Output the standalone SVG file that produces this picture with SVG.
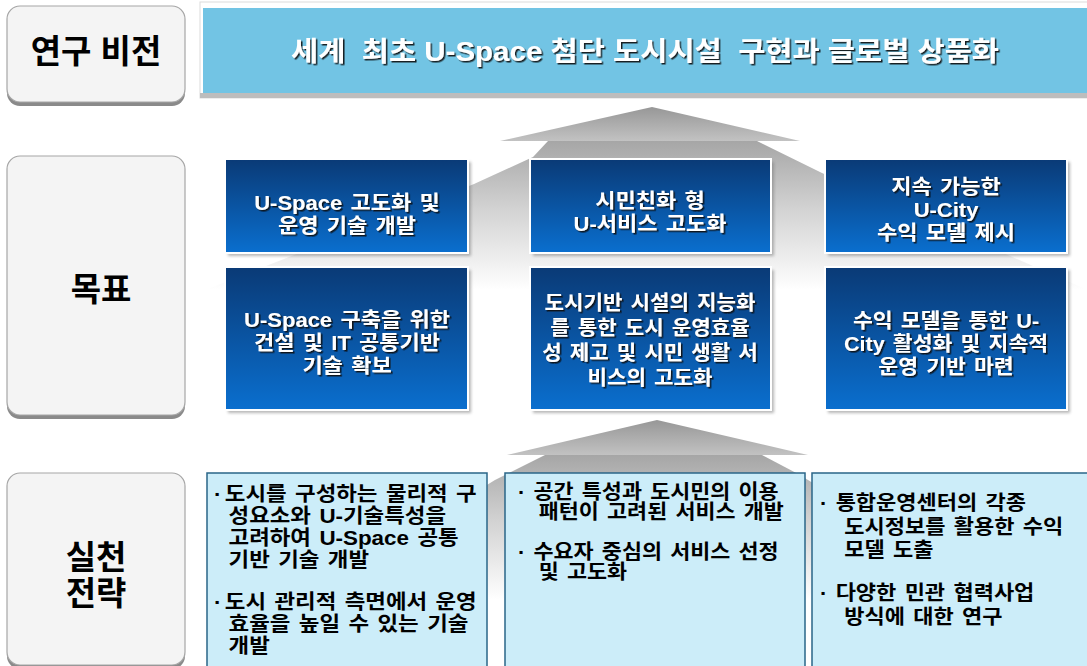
<svg xmlns="http://www.w3.org/2000/svg" width="1087" height="666" viewBox="0 0 1087 666">
<defs>
<style>
.lbl{fill:#f4f4f4;stroke:#a6a6a6;stroke-width:1.2}
.lblsh{fill:#8a8a8a}
.lt{font-family:"Liberation Sans","Noto Sans CJK KR",sans-serif;font-weight:700;font-size:33px;fill:#000;text-anchor:middle}
.gb{fill:url(#gblue);stroke:#ffffff;stroke-width:2}
.gsh{fill:#7a7a7a;opacity:.55;filter:url(#blur)}
.gt{font-family:"Liberation Sans","Noto Sans CJK KR",sans-serif;font-weight:700;font-size:20px;fill:#fff;text-anchor:middle;filter:url(#ts);word-spacing:2px}
.sb{fill:#ccedf9;stroke:#2a6688;stroke-width:1.5}
.st{font-family:"Liberation Sans","Noto Sans CJK KR",sans-serif;font-weight:700;font-size:20px;fill:#000;word-spacing:2px}
.bt{font-family:"Liberation Sans","Noto Sans CJK KR",sans-serif;font-weight:700;font-size:27px;fill:#fff;text-anchor:middle;filter:url(#ts)}
</style>
<linearGradient id="gblue" x1="0" y1="0" x2="0" y2="1">
<stop offset="0" stop-color="#0a3a76"/>
<stop offset="1" stop-color="#0a6fcf"/>
</linearGradient>
<linearGradient id="head1" gradientUnits="userSpaceOnUse" x1="0" y1="107" x2="0" y2="141">
<stop offset="0" stop-color="#979797"/>
<stop offset="1" stop-color="#c2c2c2"/>
</linearGradient>
<linearGradient id="fan1" gradientUnits="userSpaceOnUse" x1="0" y1="141" x2="0" y2="290">
<stop offset="0" stop-color="#a6a6a6"/>
<stop offset="0.45" stop-color="#d2d2d2"/>
<stop offset="1" stop-color="#ffffff"/>
</linearGradient>
<linearGradient id="head2" gradientUnits="userSpaceOnUse" x1="0" y1="420" x2="0" y2="455">
<stop offset="0" stop-color="#979797"/>
<stop offset="1" stop-color="#c2c2c2"/>
</linearGradient>
<linearGradient id="fan2" gradientUnits="userSpaceOnUse" x1="0" y1="455" x2="0" y2="600">
<stop offset="0" stop-color="#a6a6a6"/>
<stop offset="0.45" stop-color="#d2d2d2"/>
<stop offset="1" stop-color="#ffffff"/>
</linearGradient>
<filter id="ts" x="-10%" y="-20%" width="120%" height="140%">
<feDropShadow dx="1.5" dy="1.5" stdDeviation="0.6" flood-color="#111" flood-opacity="0.9"/>
</filter>
<filter id="blur" x="-10%" y="-10%" width="120%" height="120%">
<feGaussianBlur stdDeviation="1.5"/>
</filter>
</defs>
<rect width="1087" height="666" fill="#ffffff"/>

<g id="connectors">
<g id="arrow-goal-to-vision">
<polygon points="548,141 757,141 822,173 1110,300 180,300 474,184 533,157" fill="url(#fan1)"/>
<polygon points="652,107 800,141 500,141" fill="url(#head1)"/>
</g>
<g id="arrow-strategy-to-goal">
<polygon points="545,455 762,455 800,475 1000,600 300,600 495,480" fill="url(#fan2)"/>
<polygon points="657,420 808,455 507,455" fill="url(#head2)"/>
</g>
</g>

<g id="label-vision">
<rect class="lblsh" x="7" y="10" width="178" height="96" rx="13"/>
<rect class="lbl" x="7" y="6" width="178" height="96" rx="13"/>
<text class="lt" x="96" y="63">연구 비전</text>
</g>
<g id="label-goal">
<rect class="lblsh" x="7" y="160" width="178" height="259" rx="13"/>
<rect class="lbl" x="7" y="156" width="178" height="259" rx="13"/>
<text class="lt" x="101" y="301">목표</text>
</g>
<g id="label-strategy">
<rect class="lblsh" x="7" y="477" width="178" height="192" rx="13"/>
<rect class="lbl" x="7" y="473" width="178" height="192" rx="13"/>
<text class="lt" x="96" y="569"><tspan x="96">실천</tspan><tspan x="96" dy="36">전략</tspan></text>
</g>

<g id="vision">
<rect x="200" y="2" width="895" height="96" fill="#ffffff" stroke="#dcdcdc" stroke-width="1"/>
<rect x="200" y="93" width="895" height="5" fill="#bdbdbd"/>
<rect x="203" y="8" width="890" height="85" fill="#72c4e4"/>
<text class="bt" x="645" y="61" textLength="708" lengthAdjust="spacingAndGlyphs" xml:space="preserve">세계  최초 U-Space 첨단 도시시설  구현과 글로벌 상품화</text>
</g>

<g id="goal-1a">
<rect class="gsh" x="228" y="162" width="243" height="94"/>
<rect class="gb" x="225" y="159" width="243" height="94"/>
<g transform="translate(347 0) scale(1.1 1)"><text class="gt" x="0" y="210"><tspan x="0">U-Space 고도화 및</tspan><tspan x="0" dy="23">운영 기술 개발</tspan></text></g>
</g>
<g id="goal-2a">
<rect class="gsh" x="533" y="162" width="241" height="94"/>
<rect class="gb" x="530" y="159" width="241" height="94"/>
<g transform="translate(650 0) scale(1.1 1)"><text class="gt" x="0" y="208"><tspan x="0">시민친화 형</tspan><tspan x="0" dy="23">U-서비스 고도화</tspan></text></g>
</g>
<g id="goal-3a">
<rect class="gsh" x="828" y="162" width="242" height="94"/>
<rect class="gb" x="825" y="159" width="242" height="94"/>
<g transform="translate(946 0) scale(1.1 1)"><text class="gt" x="0" y="194"><tspan x="0">지속 가능한</tspan><tspan x="0" dy="23">U-City</tspan><tspan x="0" dy="23">수익 모델 제시</tspan></text></g>
</g>
<g id="goal-1b">
<rect class="gsh" x="228" y="270" width="243" height="143"/>
<rect class="gb" x="225" y="267" width="243" height="143"/>
<g transform="translate(347 0) scale(1.1 1)"><text class="gt" x="0" y="327"><tspan x="0">U-Space 구축을 위한</tspan><tspan x="0" dy="23">건설 및 IT 공통기반</tspan><tspan x="0" dy="23">기술 확보</tspan></text></g>
</g>
<g id="goal-2b">
<rect class="gsh" x="533" y="270" width="241" height="143"/>
<rect class="gb" x="530" y="267" width="241" height="143"/>
<g transform="translate(650 0) scale(1.06 1)"><text class="gt" x="0" y="310"><tspan x="0">도시기반 시설의 지능화</tspan><tspan x="0" dy="25">를 통한 도시 운영효율</tspan><tspan x="0" dy="25">성 제고 및 시민 생활 서</tspan><tspan x="0" dy="25">비스의 고도화</tspan></text></g>
</g>
<g id="goal-3b">
<rect class="gsh" x="828" y="270" width="242" height="143"/>
<rect class="gb" x="825" y="267" width="242" height="143"/>
<g transform="translate(946 0) scale(1.08 1)"><text class="gt" x="0" y="328"><tspan x="0">수익 모델을 통한 U-</tspan><tspan x="0" dy="23">City 활성화 및 지속적</tspan><tspan x="0" dy="23">운영 기반 마련</tspan></text></g>
</g>

<g id="strategy-1">
<rect class="sb" x="207" y="473" width="280" height="200"/>
<g transform="translate(214 0) scale(1.12 1)"><text class="st" x="0" y="501"><tspan x="0">·</tspan><tspan dx="3">도시를 구성하는 물리적 구</tspan><tspan x="13" dy="22">성요소와 U-기술특성을</tspan><tspan x="13" dy="22">고려하여 U-Space 공통</tspan><tspan x="13" dy="22">기반 기술 개발</tspan></text></g>
<g transform="translate(214 0) scale(1.12 1)"><text class="st" x="0" y="609"><tspan x="0">·</tspan><tspan dx="3">도시 관리적 측면에서 운영</tspan><tspan x="13" dy="22">효율을 높일 수 있는 기술</tspan><tspan x="13" dy="22">개발</tspan></text></g>
</g>
<g id="strategy-2">
<rect class="sb" x="505" y="473" width="300" height="200"/>
<g transform="translate(518 0) scale(1.09 1)"><text class="st" x="0" y="499"><tspan x="0">· 공간 특성과 도시민의 이용</tspan><tspan x="19" dy="20">패턴이 고려된 서비스 개발</tspan></text></g>
<g transform="translate(518 0) scale(1.09 1)"><text class="st" x="0" y="559"><tspan x="0">· 수요자 중심의 서비스 선정</tspan><tspan x="19" dy="20">및 고도화</tspan></text></g>
</g>
<g id="strategy-3">
<rect class="sb" x="812" y="473" width="285" height="200"/>
<g transform="translate(820 0) scale(1.1 1)"><text class="st" x="0" y="510"><tspan x="0">· 통합운영센터의 각종</tspan><tspan x="22" dy="24">도시정보를 활용한 수익</tspan><tspan x="22" dy="23">모델 도출</tspan></text></g>
<g transform="translate(820 0) scale(1.1 1)"><text class="st" x="0" y="600"><tspan x="0">· 다양한 민관 협력사업</tspan><tspan x="22" dy="24">방식에 대한 연구</tspan></text></g>
</g>
</svg>
